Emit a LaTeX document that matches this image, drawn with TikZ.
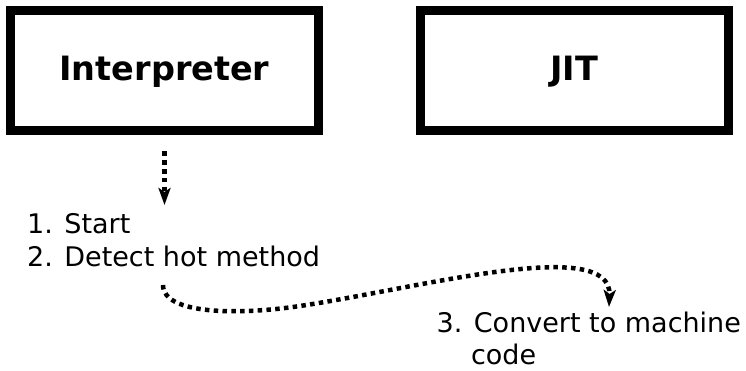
\documentclass[tikz,border=0pt]{standalone}
\usepackage{fontspec}
\setmainfont{DejaVu Sans}
\usetikzlibrary{arrows.meta}
\tikzset{
  stagebox/.style={draw=black, line width=9pt, rectangle, minimum width=308pt, minimum height=120pt,
    inner sep=0pt, font=\fontsize{33.5}{40}\selectfont\bfseries, text height=24pt, text depth=3pt},
  steptext/.style={inner sep=0pt, align=left, font=\fontsize{27}{33}\selectfont},
  dotarrow/.style={line width=4.5pt, dash pattern=on 4.5pt off 4.3pt,
    -{Stealth[length=17pt, width=12pt, inset=4pt]}}
}
\begin{document}
\begin{tikzpicture}[x=1pt, y=-1pt]
\useasboundingbox (0,0) rectangle (746,371);
\node[stagebox] (interp) at (164.5,70.5) {Interpreter};
\node[stagebox] (jit) at (574,70.5) {JIT};
\node[steptext, anchor=base west] (steps) at (27,266) {1. Start\\2. Detect hot method};
\node[steptext, anchor=base west, font=\fontsize{27}{32}\selectfont] (conv) at (436.5,364.5) {3. Convert to machine\\\phantom{3.\ }code};
\coordinate (a1e) at (164.5,205);
\coordinate (a2s) at (163,285);
\coordinate (a2e) at (609,307);
\draw[dotarrow] ([yshift=-16.5pt]interp.south) -- (a1e);
\draw[dotarrow] (a2s) .. controls (163,315) and (240,315) .. (300,306)
  .. controls (420,288) and (612,235) .. (a2e);
\end{tikzpicture}
\end{document}
